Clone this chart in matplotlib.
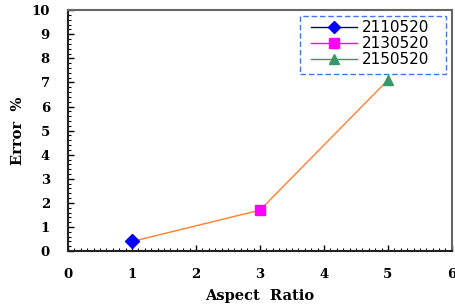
import matplotlib
matplotlib.use("Agg")
import matplotlib.pyplot as plt
from matplotlib.ticker import MultipleLocator
from matplotlib.patches import Rectangle

x_vals = [1, 3, 5]
err_vals = [0.4, 1.7, 7.1]
labels = ["2110520", "2130520", "2150520"]
colors = ["#0000FF", "#FF00FF", "#339966"]
line_colors = ["#000080", "#FF00FF", "#339966"]
markers = ["D", "s", "^"]
msizes = [7.5, 7, 7]
x_ticks = [0, 1, 2, 3, 4, 5, 6]
y_ticks = list(range(0, 11))

W, H = 456, 307
fig = plt.figure(figsize=(W / 100, H / 100), dpi=100)
ax = fig.add_axes([0.149, 0.182, 0.842, 0.785])

ax.plot(x_vals, err_vals, color="#FF8030", lw=1.0, zorder=2)
for xv, yv, lab, c, lc, m, ms in zip(x_vals, err_vals, labels, colors, line_colors, markers, msizes):
    ax.plot([xv], [yv], marker=m, color=lc, markerfacecolor=c, markeredgecolor=c,
            markersize=ms, lw=1.0, label=lab, zorder=3)

ax.set_xlim(0, 6)
ax.set_ylim(0, 10)
ax.set_xticks(x_ticks)
ax.set_yticks(y_ticks)
ax.xaxis.set_minor_locator(MultipleLocator(0.1))
ax.yaxis.set_minor_locator(MultipleLocator(0.2))
ax.tick_params(which="both", direction="in", top=False, right=False)
ax.tick_params(which="major", length=4, width=1)
ax.tick_params(which="minor", length=2.5, width=0.8)
ax.tick_params(axis="x", pad=12)
ax.tick_params(axis="y", pad=13)

serif = ["DejaVu Serif"]
for t in ax.get_xticklabels() + ax.get_yticklabels():
    t.set_fontfamily(serif)
    t.set_fontweight("bold")
    t.set_fontsize(9.5)

ax.set_xlabel("Aspect  Ratio", fontfamily=serif, fontweight="bold", fontsize=10.5, labelpad=6)
ax.set_ylabel("Error  %", fontfamily=serif, fontweight="bold", fontsize=10.5, labelpad=5)

for side in ["left", "bottom"]:
    ax.spines[side].set_color("#222222")
    ax.spines[side].set_linewidth(1.5)
for side in ["top", "right"]:
    ax.spines[side].set_color("#666666")
    ax.spines[side].set_linewidth(1.5)

leg = fig.legend(*ax.get_legend_handles_labels(), loc="upper left",
                 bbox_to_anchor=(311 / W, 1 - 20 / H), frameon=False,
                 prop={"family": "DejaVu Sans", "size": 11}, handlelength=3.0,
                 borderpad=0, labelspacing=0.08, handletextpad=0.3, borderaxespad=0)
for h in leg.legend_handles:
    h.set_markersize(6.5)

box = Rectangle((300 / W, 1 - 74 / H), 146 / W, 58 / H, transform=fig.transFigure,
                fill=False, edgecolor="#4477EE", lw=1.0, linestyle=(0, (4, 2)), zorder=5)
fig.add_artist(box)

fig.savefig("out.png", dpi=100)
